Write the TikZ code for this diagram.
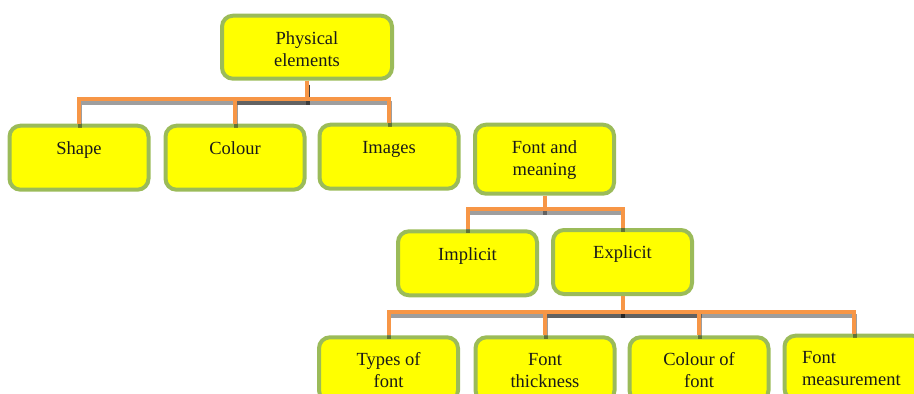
\documentclass[tikz,border=0pt]{standalone}
\usepackage{fontspec}
\setmainfont{Liberation Serif}
\definecolor{boxgreen}{HTML}{9BBB59}
\definecolor{connorange}{HTML}{F79646}
\definecolor{boxyellow}{HTML}{FFFF00}
\definecolor{txtcol}{HTML}{1A1A1A}
\newcommand\bxt[1]{\parbox[t]{134pt}{\centering #1}}
\newcommand\bxl[1]{\parbox[t]{104pt}{\raggedright #1}}
\tikzset{
  box/.style={draw=boxgreen, line width=4pt, fill=boxyellow, rounded corners=11pt,
    inner xsep=0pt, inner ysep=0pt, minimum width=139pt,
    text height=29pt, text depth=35pt, anchor=north, text=txtcol,
    font=\fontsize{18.5pt}{22pt}\selectfont},
  conn/.style={draw=connorange, line width=4pt},
  shad/.style={draw=black, opacity=0.38, line width=4pt,
    transform canvas={shift={(0.5pt,-4pt)}}}
}
\begin{document}
\begin{tikzpicture}[x=1pt,y=-1pt]
\useasboundingbox (0,0) rectangle (914,394);
\clip (0,0) rectangle (914,394);
% boxes
\node[box, minimum width=170pt, text depth=34pt] (phys) at (307,13.7) {\bxt{Physical\\elements}};
\node[box] (shape) at (79,123.7) {\bxt{Shape}};
\node[box] (colour) at (235,123.7) {\bxt{Colour}};
\node[box] (images) at (389,122.7) {\bxt{Images}};
\node[box, text depth=40pt] (fam) at (544.5,122.7) {\bxt{Font and\\meaning}};
\node[box] (implicit) at (467.5,229.3) {\bxt{Implicit}};
\node[box, text height=28pt, text depth=36pt] (explicit) at (622.5,228) {\bxt{Explicit}};
\node[box, text height=28pt, text depth=36pt] (types) at (388.5,335.3) {\bxt{Types of\\font}};
\node[box, text height=28pt, text depth=36pt] (thick) at (545,335.3) {\bxt{Font\\thickness}};
\node[box, text height=28pt, text depth=36pt] (cof) at (699,335.3) {\bxt{Colour of\\font}};
\node[box, text height=28pt, text depth=36pt] (meas) at (854,333.7) {\bxl{Font\\measurement}};
% bus levels
\coordinate (b1) at (0,98.5);
\coordinate (b2) at (0,208.5);
\coordinate (b3) at (0,312);
% shadows
\foreach \c in {shape,colour,images}
  \draw[shad] (phys.south) |- (\c.north |- b1) -- (\c.north);
\foreach \c in {implicit,explicit}
  \draw[shad] (fam.south) |- (\c.north |- b2) -- (\c.north);
\foreach \c in {types,thick,cof,meas}
  \draw[shad] (explicit.south) |- (\c.north |- b3) -- (\c.north);
% connectors
\foreach \c in {shape,colour,images}
  \draw[conn] (phys.south) |- (\c.north |- b1) -- (\c.north);
\foreach \c in {implicit,explicit}
  \draw[conn] (fam.south) |- (\c.north |- b2) -- (\c.north);
\foreach \c in {types,thick,cof,meas}
  \draw[conn] (explicit.south) |- (\c.north |- b3) -- (\c.north);
\end{tikzpicture}
\end{document}
